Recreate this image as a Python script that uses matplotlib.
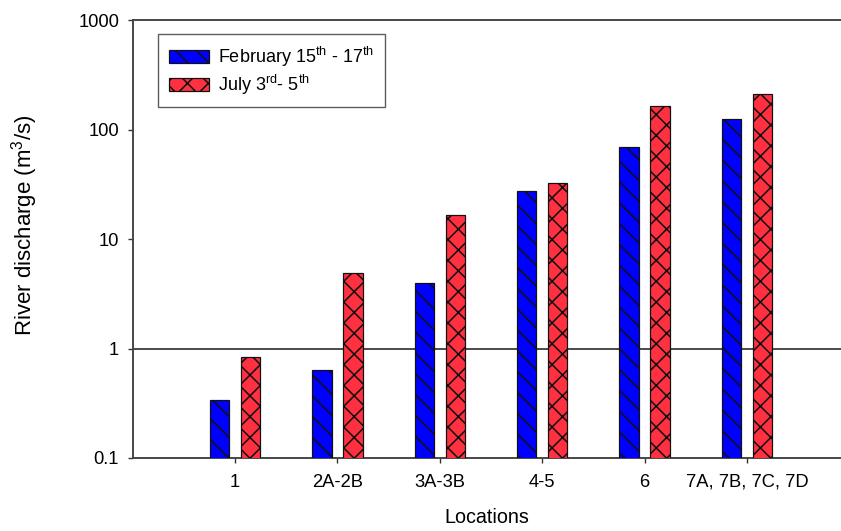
import matplotlib
matplotlib.use("Agg")
import matplotlib.pyplot as plt
import numpy as np

plt.rcParams["font.family"] = ["Liberation Sans", "DejaVu Sans"]
plt.rcParams["mathtext.fontset"] = "custom"
plt.rcParams["mathtext.rm"] = "Liberation Sans"
plt.rcParams["hatch.linewidth"] = 0.9

# River discharge per sampling location (m^3/s)
locations = ["1", "2A-2B", "3A-3B", "4-5", "6", "7A, 7B, 7C, 7D"]
february = [0.34, 0.64, 4.0, 27.7, 69, 125]
july = [0.83, 4.85, 16.7, 32.3, 163, 209]

y_ticks = [0.1, 1, 10, 100, 1000]
y_tick_labels = ["0.1", "1", "10", "100", "1000"]

DPI = 125
fig = plt.figure(figsize=(841 / DPI, 531 / DPI), dpi=DPI)
ax = fig.add_axes([133 / 841, 73 / 531, 708 / 841, 438 / 531])

x = np.arange(len(locations))
width = 0.19
offset = 0.152

ax.bar(x - offset, february, width, color="#0000ff", edgecolor="#111111",
       linewidth=0.7, hatch="\\\\", label=r"February 15$^{\mathrm{th}}$ - 17$^{\mathrm{th}}$",
       zorder=3)
ax.bar(x + offset, july, width, color="#ff3040", edgecolor="#111111",
       linewidth=0.7, hatch="xx", label=r"July 3$^{\mathrm{rd}}$- 5$^{\mathrm{th}}$",
       zorder=3)

ax.set_yscale("log")
ax.set_ylim(0.1, 1000)
ax.set_yticks(y_ticks)
ax.set_yticklabels(y_tick_labels)
ax.yaxis.set_minor_locator(matplotlib.ticker.NullLocator())

ax.set_xlim(-0.996, 5.918)
ax.set_xticks(x)
ax.set_xticklabels(locations)

ax.axhline(1, color="#333333", linewidth=1.0, zorder=2)

for side in ["left", "top", "bottom"]:
    ax.spines[side].set_color("#444444")
    ax.spines[side].set_linewidth(1.1)
ax.spines["right"].set_visible(False)

ax.tick_params(axis="both", direction="out", length=3, width=0.8,
               colors="#333333", labelcolor="black", labelsize=10.6)
ax.tick_params(axis="x", pad=6)
ax.tick_params(axis="y", pad=5)

ax.set_xlabel("Locations", fontsize=11.4, labelpad=10)
ax.set_ylabel("River discharge (m$^3$/s)", fontsize=12.8)
ax.yaxis.set_label_coords(-0.131, 0.532)

leg = ax.legend(loc="upper left", bbox_to_anchor=(25 / 708, 1 - 14 / 438),
                fontsize=10.4, frameon=True, fancybox=False,
                edgecolor="#333333", handlelength=2.25, handleheight=0.75,
                handletextpad=0.5, labelspacing=0.2, borderpad=0.6,
                borderaxespad=0)
leg.get_frame().set_linewidth(0.8)

fig.savefig("out.png", dpi=DPI)
